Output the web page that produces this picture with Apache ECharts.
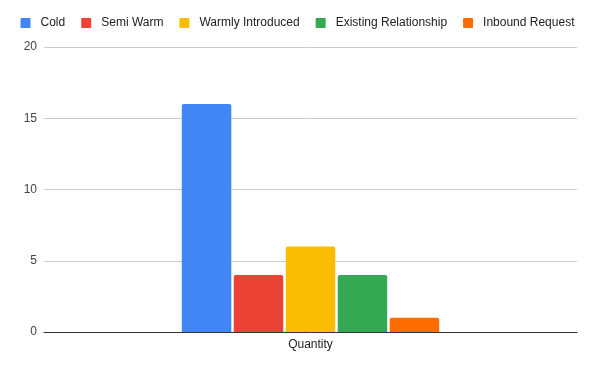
<!DOCTYPE html>
<html>
<head>
<meta charset="utf-8">
<script src="https://cdn.jsdelivr.net/npm/echarts@6/dist/echarts.min.js"></script>
<style>
  html, body { margin: 0; padding: 0; background: #fff; }
  #chart { width: 595px; height: 368px; }
</style>
</head>
<body>
<div id="chart"></div>
<script>
var categories = ['Quantity'];
var seriesNames = ['Cold', 'Semi Warm', 'Warmly Introduced', 'Existing Relationship', 'Inbound Request'];
var seriesValues = [[16], [4], [6], [4], [1]];
var colors = ['#4285f4', '#ea4335', '#fbbc04', '#34a853', '#ff6d01'];

var chart = echarts.init(document.getElementById('chart'));

var series = [];
for (var i = 0; i < seriesNames.length; i++) {
  series.push({
    name: seriesNames[i],
    type: 'bar',
    data: seriesValues[i],
    barWidth: 49.5,
    barGap: '5%',
    itemStyle: { color: colors[i], borderRadius: [2, 2, 0, 0] }
  });
}

var option = {
  animation: false,
  color: colors,
  legend: {
    top: 12,
    left: 'center',
    itemWidth: 10,
    itemHeight: 10,
    itemGap: 16,
    icon: 'path://M1,0 H9 Q10,0 10,1 V9 Q10,10 9,10 H1 Q0,10 0,9 V1 Q0,0 1,0 Z',
    textStyle: { fontFamily: 'Liberation Sans, Arial', fontSize: 12, color: '#222', padding: [0, 0, 0, 5] },
    data: seriesNames
  },
  grid: { left: 44, right: 18, top: 47, bottom: 36, containLabel: false },
  xAxis: {
    type: 'category',
    data: categories,
    axisLine: { lineStyle: { color: '#333', width: 1 } },
    axisTick: { show: false },
    axisLabel: { fontFamily: 'Liberation Sans, Arial', fontSize: 12, color: '#222', margin: 7 }
  },
  yAxis: {
    type: 'value',
    min: 0,
    max: 20,
    interval: 5,
    axisLine: { show: false },
    axisTick: { show: false },
    splitLine: { lineStyle: { color: '#ccc' } },
    axisLabel: { fontFamily: 'Liberation Sans, Arial', fontSize: 12, color: '#444', margin: 7 }
  },
  series: series
};

chart.setOption(option);
</script>
</body>
</html>
